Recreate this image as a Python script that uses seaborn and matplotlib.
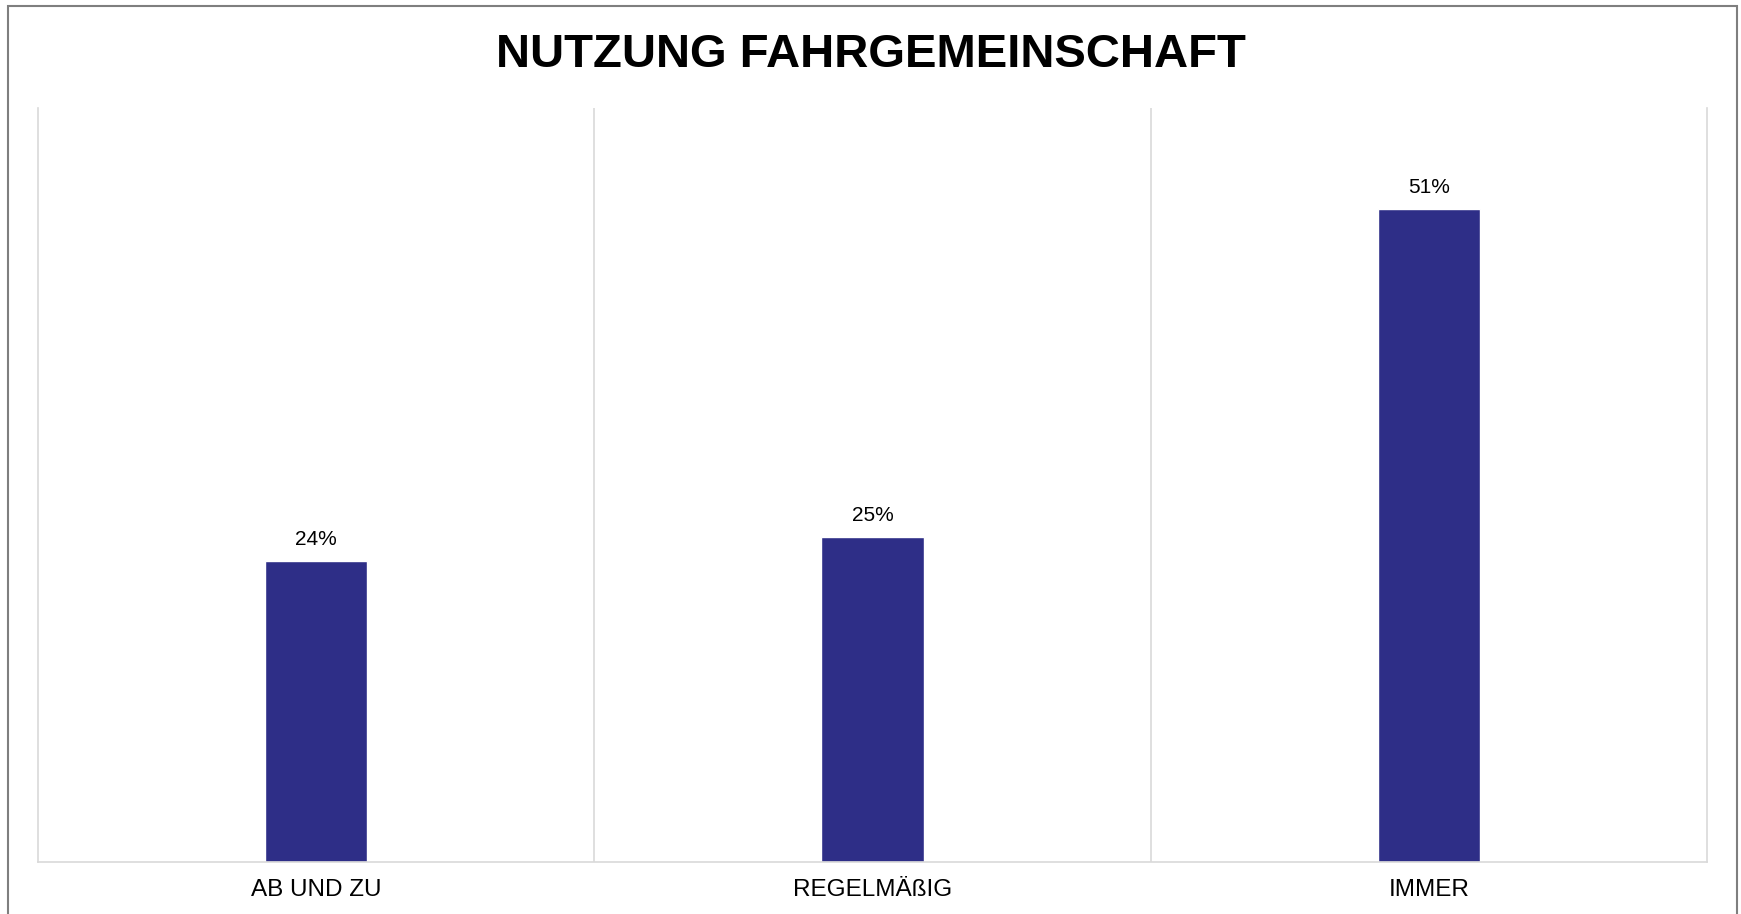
import matplotlib
matplotlib.use("Agg")
import matplotlib.pyplot as plt
import seaborn as sns
import numpy as np
from matplotlib.patches import Rectangle

categories = ["AB UND ZU", "REGELMÄßIG", "IMMER"]
values = [23.5, 25.4, 51.0]
value_labels = ["24%", "25%", "51%"]
title = "NUTZUNG FAHRGEMEINSCHAFT"

bar_color = "#2E2E87"
grid_color = "#D9D9D9"

sns.set_theme(style="white")
plt.rcParams["font.family"] = ["Liberation Sans", "DejaVu Sans"]

W, H = 1741, 914
fig = plt.figure(figsize=(W / 100, H / 100), dpi=100)
ax = fig.add_axes([38 / W, 1 - 862 / H, (1707 - 38) / W, (862 - 108) / H])

sns.barplot(x=categories, y=values, color=bar_color, saturation=1,
            width=0.184, ax=ax)

ax.set_xlim(-0.5, 2.5)
ax.set_ylim(0, 58.9)
ax.set_yticks([])
ax.set_xlabel("")
ax.set_ylabel("")

# vertical separators between categories
ax.set_xticks([0.5, 1.5], minor=True)
ax.grid(False)
ax.grid(True, which="minor", axis="x", color=grid_color, linewidth=1.2)
ax.tick_params(axis="x", which="both", length=0, pad=12.5, labelsize=17.5,
               colors="black")

ax.spines["top"].set_visible(False)
for side in ["left", "right", "bottom"]:
    ax.spines[side].set_color(grid_color)
    ax.spines[side].set_linewidth(1.2)

# data labels
for i, (v, lab) in enumerate(zip(values, value_labels)):
    ax.annotate(lab, (i, v), xytext=(0, 11.5), textcoords="offset points",
                ha="center", va="baseline", fontsize=15, color="black")

fig.text(0.5 * (497 + 1245) / W, 1 - 66.7 / H, title, ha="center",
         va="baseline", fontsize=34, fontweight="bold", color="black")

# outer chart frame
fig.patches.append(Rectangle((8 / W, -0.05), (1737 - 8) / W, 1.05 - 6 / H,
                             transform=fig.transFigure, fill=False,
                             edgecolor="#7F7F7F", linewidth=1.5))

fig.savefig("out.png", dpi=100)
